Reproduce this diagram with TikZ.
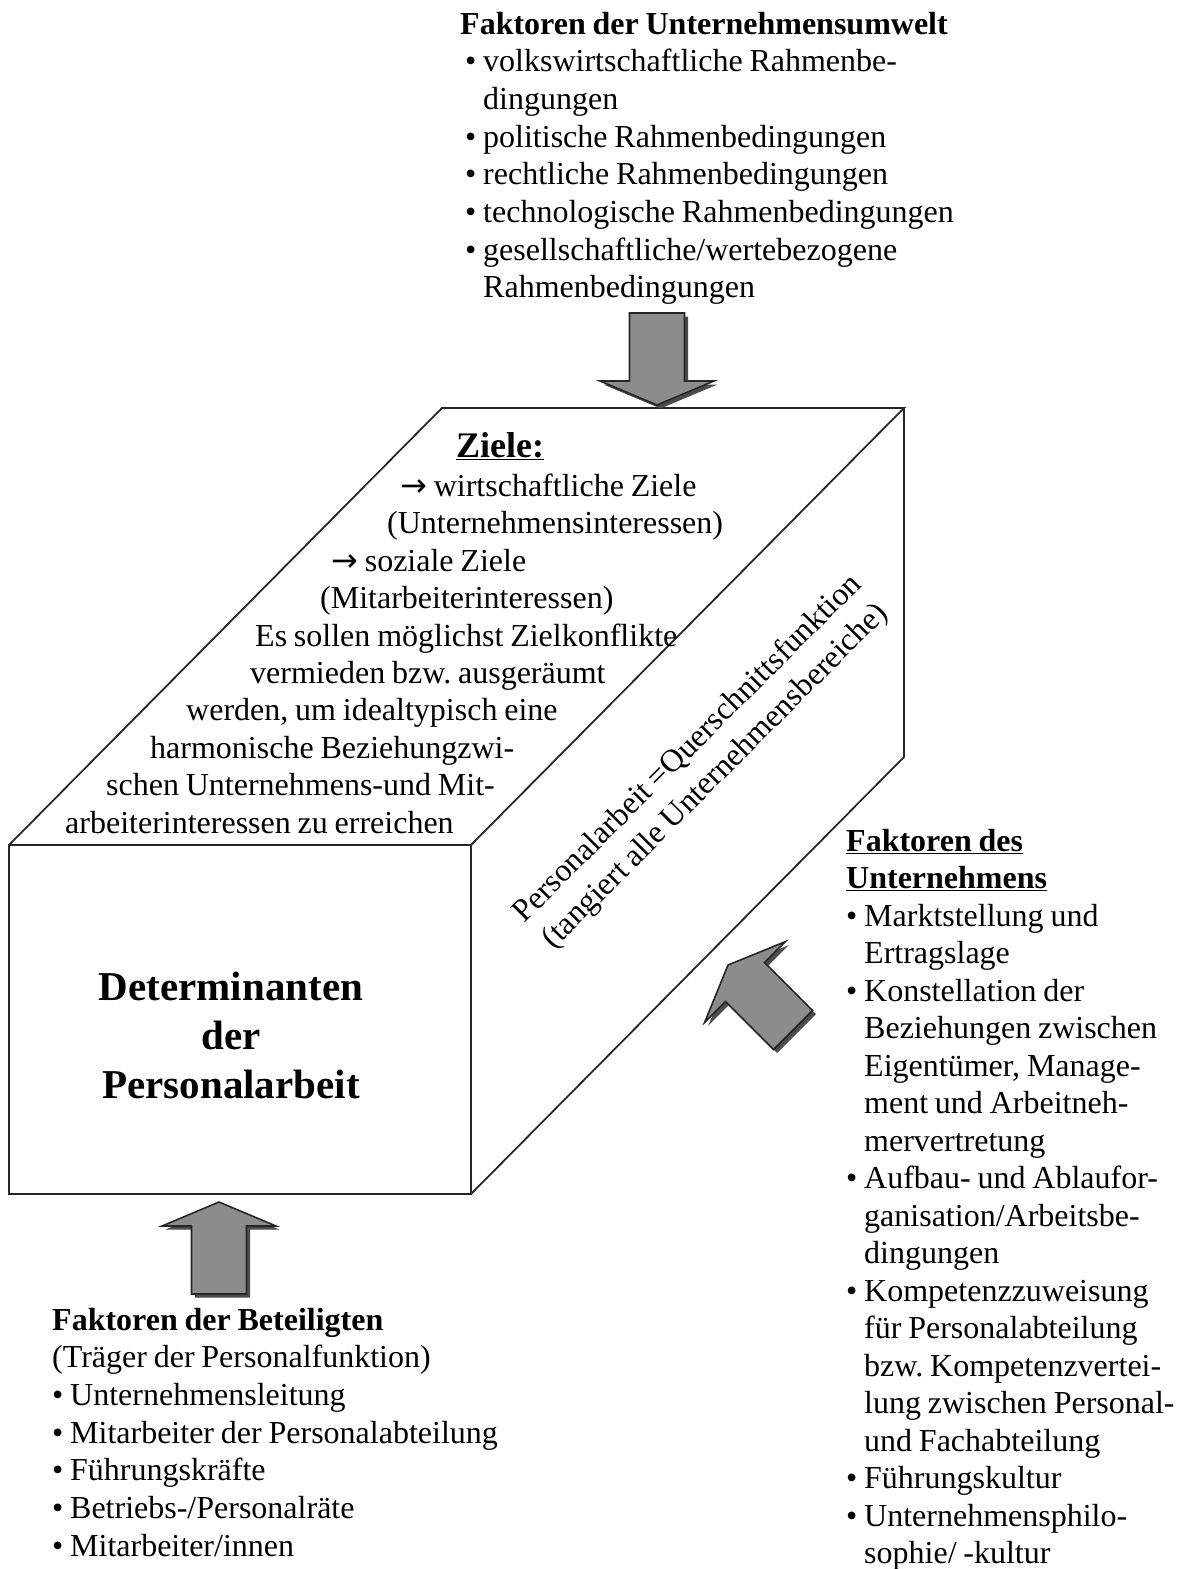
\documentclass[tikz,border=0pt]{standalone}
\usepackage{fontspec}
\setmainfont[WordSpace=0.85]{Liberation Serif}
\newfontfamily\arrowfont{DejaVu Sans}
\frenchspacing
\newcommand\ind{\hphantom{•\ }}
\newcommand\ra{{\arrowfont →}}
\newcommand\fatarrow[3]{%
  \begin{scope}[shift={({#1+3.5},{#2+3.5})},rotate=#3]
    \fill[arrowshadow] (0,0) -- (57,24) -- (27.5,24) -- (27.5,92) -- (-27.5,92) -- (-27.5,24) -- (-57,24) -- cycle;
  \end{scope}
  \begin{scope}[shift={(#1,#2)},rotate=#3]
    \filldraw[arrowbody] (0,0) -- (57,24) -- (27.5,24) -- (27.5,92) -- (-27.5,92) -- (-27.5,24) -- (-57,24) -- cycle;
  \end{scope}}
\begin{document}
\begin{tikzpicture}[x=1pt,y=-1pt,
  boxline/.style={line width=1.8pt, draw=black!85, line join=miter},
  arrowbody/.style={fill=black!45, draw=black!85, line width=1.6pt, line join=miter},
  arrowshadow/.style={fill=black!70},
  txt/.style={inner sep=0pt, anchor=base west, align=flush left, font=\fontsize{32}{37.7}\selectfont},
  zl/.style={inner sep=0pt, anchor=base west, font=\fontsize{32}{38}\selectfont}]
\useasboundingbox (0,0) rectangle (1178,1569);
% box corners
\coordinate (ftl) at (9,845);
\coordinate (ftr) at (471,845);
\coordinate (fbr) at (471,1194);
\coordinate (fbl) at (9,1194);
\coordinate (btl) at (442,408);
\coordinate (btr) at (904,408);
\coordinate (bbr) at (904,757);
\draw[boxline] (ftl) rectangle (fbr);
\draw[boxline] (ftl) -- (btl) -- (btr) -- (ftr);
\draw[boxline] (btr) -- (bbr) -- (fbr);
% arrows
\fatarrow{657}{405}{180}
\fatarrow{219}{1202}{0}
\fatarrow{728}{965}{45}
% top text
\node[txt, text width=700pt] (umwelt) at (460,34) {\textbf{Faktoren der Unternehmensumwelt}\\
\hspace*{5pt}• volkswirtschaftliche Rahmenbe-\\
\hspace*{5pt}\ind dingungen\\
\hspace*{5pt}• politische Rahmenbedingungen\\
\hspace*{5pt}• rechtliche Rahmenbedingungen\\
\hspace*{5pt}• technologische Rahmenbedingungen\\
\hspace*{5pt}• gesellschaftliche/wertebezogene\\
\hspace*{5pt}\ind Rahmenbedingungen};
% Ziele
\node[inner sep=0pt, anchor=base west, font=\bfseries\fontsize{36}{40}\selectfont] (z1) at (456,457) {\underline{Ziele:}};
\node[zl] (z2) at (400,496) {\ra{} wirtschaftliche Ziele};
\node[zl] (z3) at (387,533) {(Unternehmensinteressen)};
\node[zl] (z4) at (331,571) {\ra{} soziale Ziele};
\node[zl] (z5) at (320,608) {(Mitarbeiterinteressen)};
\node[zl] (z6) at (255,646) {Es sollen möglichst Zielkonflikte};
\node[zl] (z7) at (250,683) {vermieden bzw. ausgeräumt};
\node[zl] (z8) at (186,720) {werden, um idealtypisch eine};
\node[zl] (z9) at (150,758) {harmonische Beziehungzwi-};
\node[zl] (z10) at (106,795) {schen Unternehmens-und Mit-};
\node[zl] (z11) at (65,833) {arbeiterinteressen zu erreichen};
% rotated text on side face
\node[rotate=45, align=center, inner sep=0pt, font=\fontsize{32}{39}\selectfont] (quer) at (702,763) {Personalarbeit =Querschnittsfunktion\\(tangiert alle Unternehmensbereiche)};
% front face text
\node[inner sep=0pt, anchor=base, align=center, text width=420pt, font=\bfseries\fontsize{41}{49}\selectfont] (det) at (231,1000) {Determinanten\\der\\Personalarbeit};
% right text
\node[txt, text width=500pt, font=\fontsize{32}{37.5}\selectfont] (unt) at (846,851) {\textbf{\underline{Faktoren des}}\\
\textbf{\underline{Unternehmens}}\\
• Marktstellung und\\
\ind Ertragslage\\
• Konstellation der\\
\ind Beziehungen zwischen\\
\ind Eigentümer, Manage-\\
\ind ment und Arbeitneh-\\
\ind mervertretung\\
• Aufbau- und Ablaufor-\\
\ind ganisation/Arbeitsbe-\\
\ind dingungen\\
• Kompetenzzuweisung\\
\ind für Personalabteilung\\
\ind bzw. Kompetenzvertei-\\
\ind lung zwischen Personal-\\
\ind und Fachabteilung\\
• Führungskultur\\
• Unternehmensphilo-\\
\ind sophie/ -kultur};
% bottom text
\node[txt, text width=600pt] (bet) at (52,1330) {\textbf{Faktoren der Beteiligten}\\
(Träger der Personalfunktion)\\
• Unternehmensleitung\\
• Mitarbeiter der Personalabteilung\\
• Führungskräfte\\
• Betriebs-/Personalräte\\
• Mitarbeiter/innen};
\end{tikzpicture}
\end{document}
